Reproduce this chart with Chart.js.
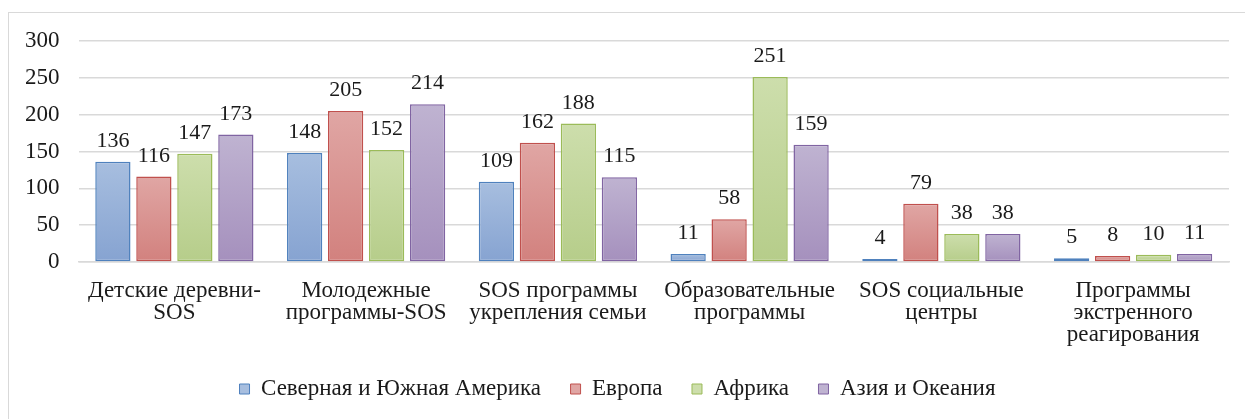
<!DOCTYPE html>
<html>
<head>
<meta charset="utf-8">
<script src="https://cdn.jsdelivr.net/npm/chart.js@4.4.1/dist/chart.umd.min.js"></script>
<style>
html,body{margin:0;padding:0;background:#fff;overflow:hidden;}
#wrap{position:absolute;left:0;top:0;width:1245px;height:419px;}
#frame{position:absolute;left:8px;top:12px;width:1400px;height:600px;border:1.5px solid #d9d9d9;box-sizing:border-box;pointer-events:none;}
</style>
</head>
<body>
<div id="wrap"><canvas id="c" width="1245" height="419"></canvas></div>
<div id="frame"></div>
<script>
const categories = [
  ["Детские деревни-", "SOS"],
  ["Молодежные", "программы-SOS"],
  ["SOS программы", "укрепления семьи"],
  ["Образовательные", "программы"],
  ["SOS социальные", "центры"],
  ["Программы", "экстренного", "реагирования"]
];
const seriesNames = ["Северная и Южная Америка", "Европа", "Африка", "Азия и Океания"];
const americas = [136, 148, 109, 11, 4, 5];
const europe   = [116, 205, 162, 58, 79, 8];
const africa   = [147, 152, 188, 251, 38, 10];
const asia     = [173, 214, 115, 159, 38, 11];
const yTicks = [0, 50, 100, 150, 200, 250, 300];

const fills = [
  ["#a7bedf", "#86a3d1"],
  ["#e0a6a4", "#d2817e"],
  ["#cddeac", "#b6cd8a"],
  ["#bfb3d1", "#a590bd"]
];
const borders = ["#4f81bd", "#c0504d", "#9bbb59", "#8064a2"];
const FONT = "'Liberation Serif', 'Times New Roman', serif";

function gradFill(si) {
  return function(ctx) {
    const chart = ctx.chart;
    const area = chart.chartArea;
    const ys = chart.scales && chart.scales.y;
    if (!area || !ys || ctx.dataIndex === undefined || !ctx.parsed) return fills[si][1];
    const top = ys.getPixelForValue(ctx.parsed.y);
    const base = ys.getPixelForValue(0);
    if (!isFinite(top) || !isFinite(base) || base - top < 1) return fills[si][1];
    const g = chart.ctx.createLinearGradient(0, top, 0, base);
    g.addColorStop(0, fills[si][0]);
    g.addColorStop(1, fills[si][1]);
    return g;
  };
}

const allData = [americas, europe, africa, asia];
const datasets = allData.map((d, i) => ({
  label: seriesNames[i],
  data: d,
  backgroundColor: gradFill(i),
  borderColor: borders[i],
  borderWidth: 1.5,
  borderSkipped: false,
  barPercentage: 0.86,
  categoryPercentage: 0.855
}));

const valueLabels = {
  id: 'valueLabels',
  afterDatasetsDraw(chart) {
    const ctx = chart.ctx;
    ctx.save();
    ctx.font = "22px " + FONT;
    ctx.fillStyle = "#1a1a1a";
    ctx.textAlign = "center";
    ctx.textBaseline = "alphabetic";
    chart.data.datasets.forEach((ds, di) => {
      const meta = chart.getDatasetMeta(di);
      meta.data.forEach((bar, i) => {
        ctx.fillText(String(ds.data[i]), bar.x, bar.y - 15);
      });
    });
    ctx.restore();
  }
};

new Chart(document.getElementById('c'), {
  type: 'bar',
  data: { labels: categories, datasets: datasets },
  plugins: [valueLabels],
  options: {
    responsive: false,
    animation: false,
    devicePixelRatio: 1,
    layout: { padding: { left: 6, right: 16, top: 41, bottom: 8.5 } },
    scales: {
      x: {
        grid: { display: false, drawTicks: false },
        border: { display: true, color: '#d9d9d9', width: 1.5 },
        ticks: {
          color: '#1a1a1a',
          font: { family: FONT, size: 23, lineHeight: 0.96 },
          padding: 18,
          maxRotation: 0,
          autoSkip: false
        },
        afterFit(axis) { axis.height = 86; }
      },
      y: {
        min: 0,
        max: 300,
        afterBuildTicks(axis) { axis.ticks = yTicks.map(v => ({ value: v })); },
        grid: { color: '#d9d9d9', lineWidth: 1.5, drawTicks: false },
        border: { display: false },
        ticks: {
          color: '#1a1a1a',
          font: { family: FONT, size: 23 },
          padding: 19
        }
      }
    },
    plugins: {
      tooltip: { enabled: false },
      legend: {
        position: 'bottom',
        labels: {
          color: '#1a1a1a',
          font: { family: FONT, size: 23 },
          boxWidth: 10,
          boxHeight: 10,
          padding: 29.5,
          generateLabels(chart) {
            return chart.data.datasets.map((ds, i) => ({
              text: ds.label,
              fillStyle: fills[i][0],
              strokeStyle: borders[i],
              lineWidth: 1,
              hidden: false,
              datasetIndex: i,
              fontColor: '#1a1a1a'
            }));
          }
        }
      }
    }
  }
});
</script>
</body>
</html>
